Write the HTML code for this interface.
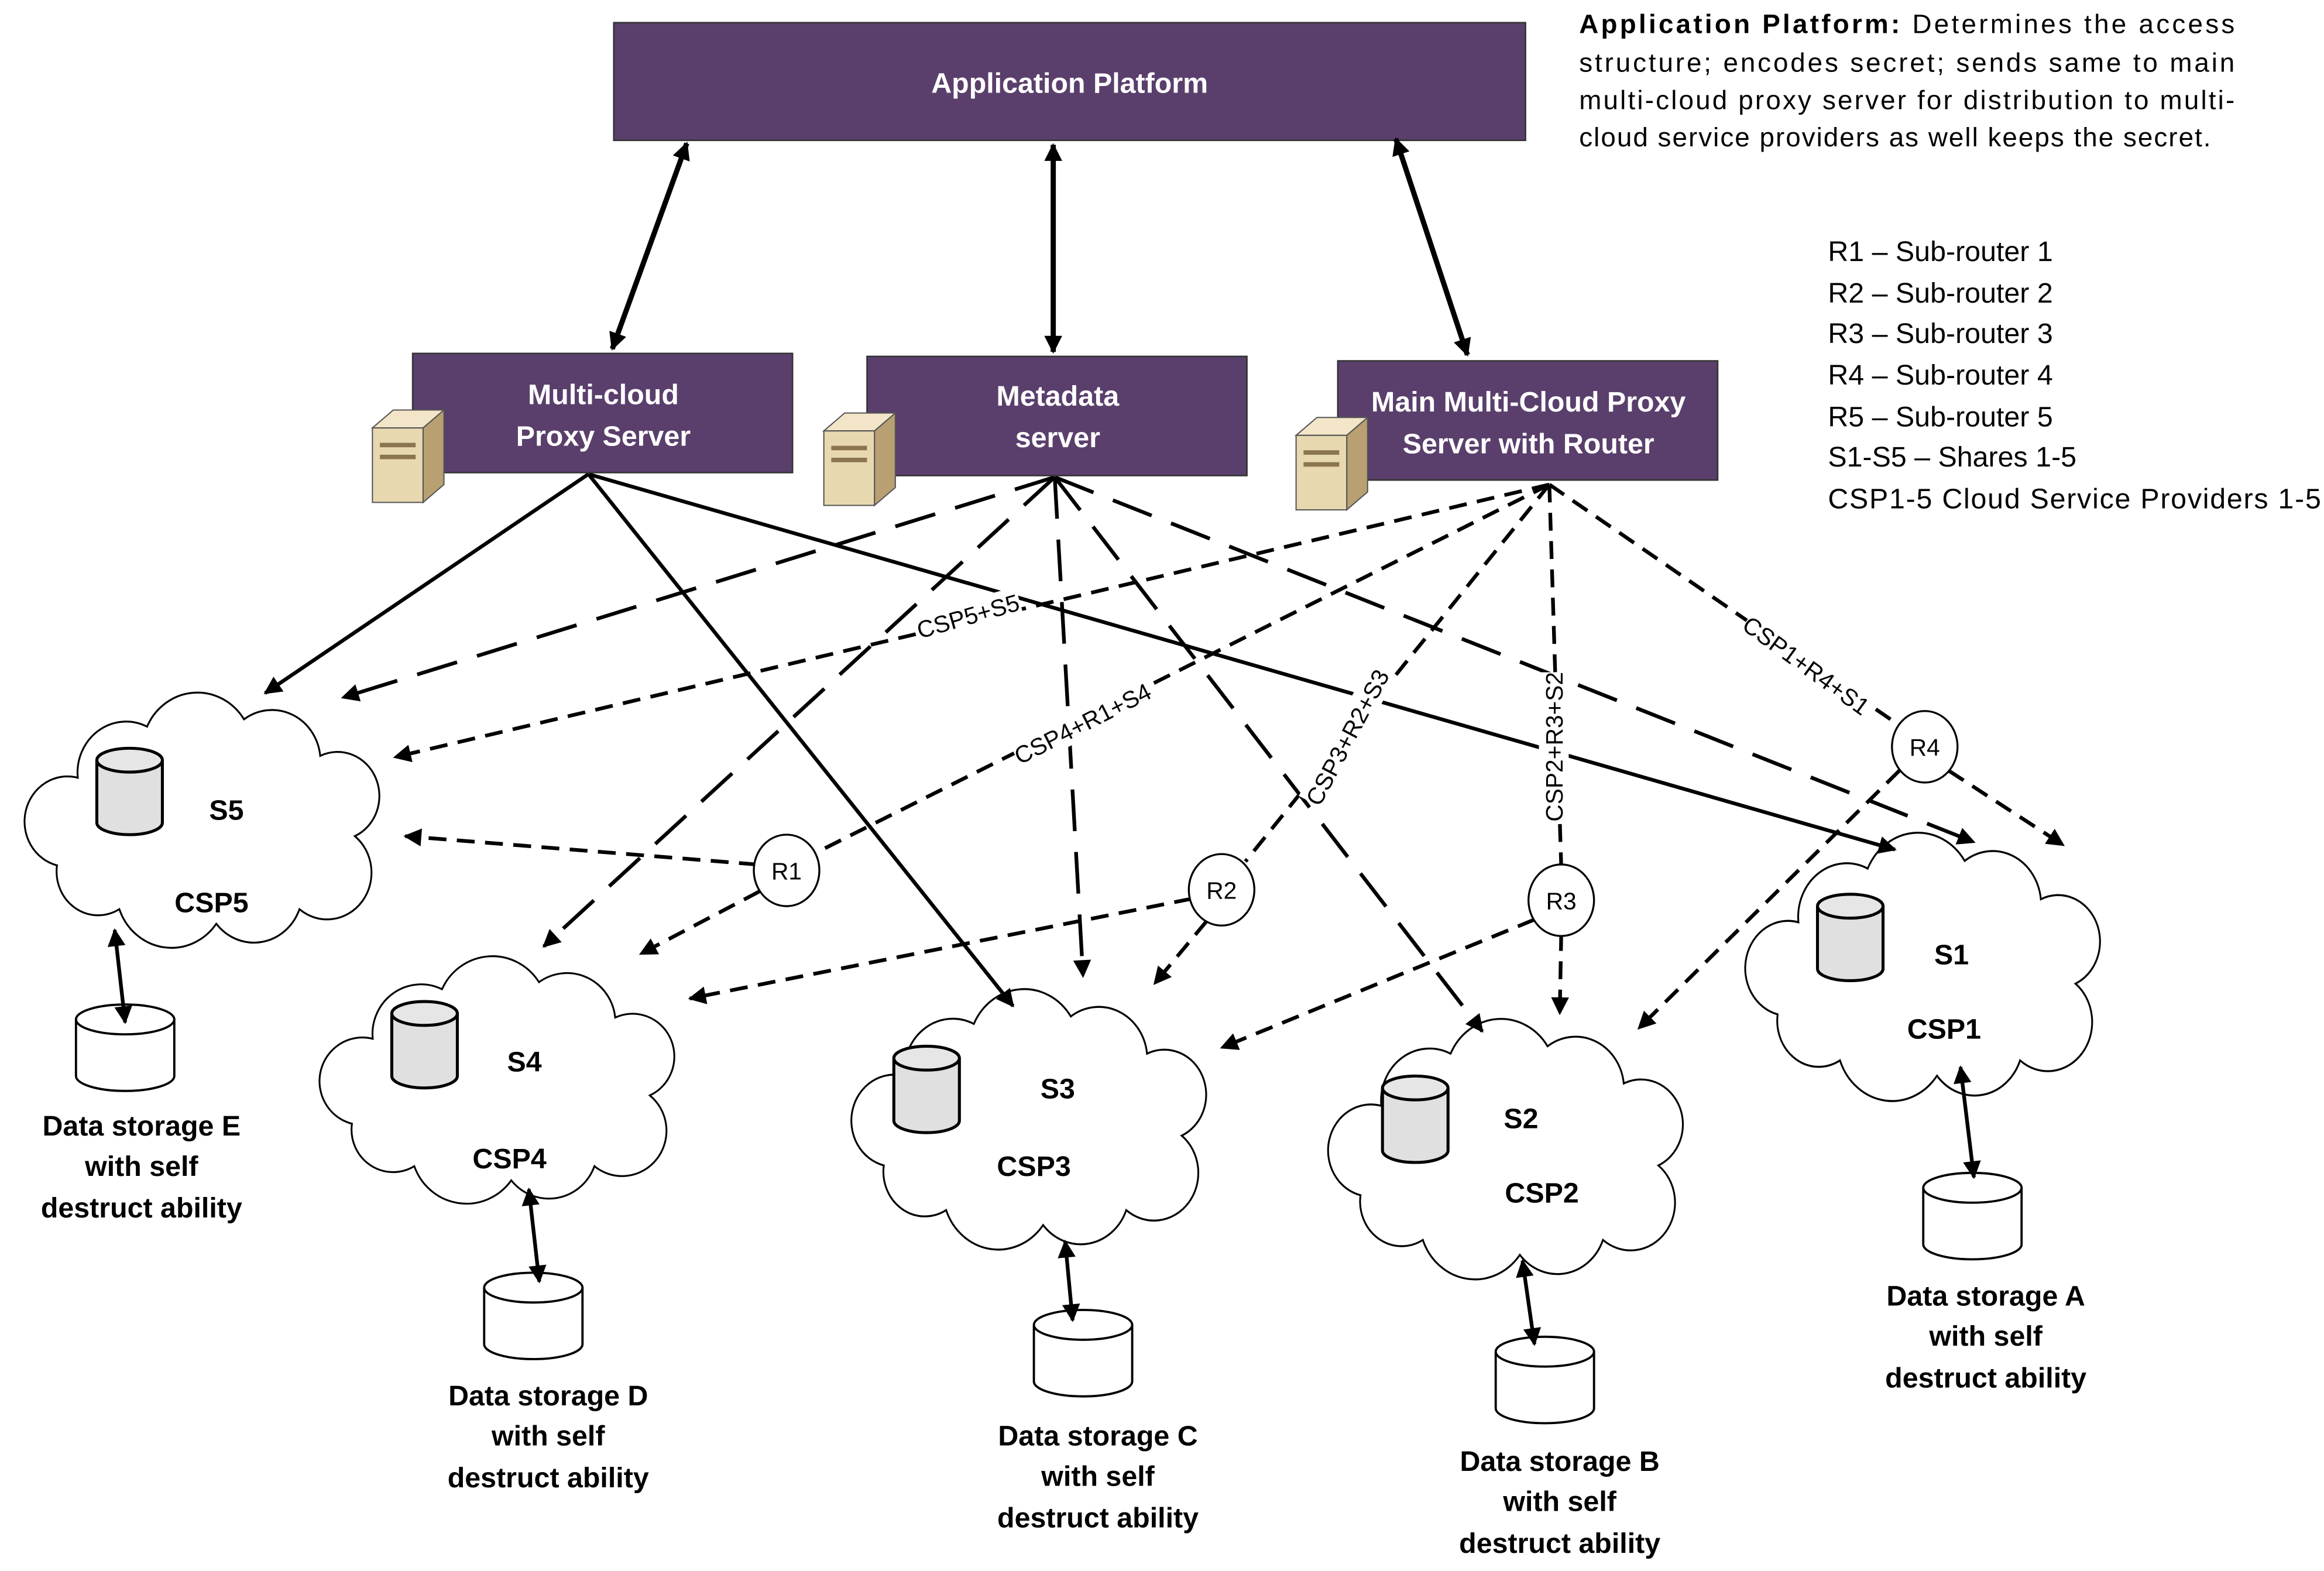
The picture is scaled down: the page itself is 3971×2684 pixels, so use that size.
<!DOCTYPE html>
<html><head><meta charset="utf-8"><style>
html,body{margin:0;padding:0;background:#fff;}
svg{display:block;}
text{font-family:"Liberation Sans","DejaVu Sans",sans-serif;}
.b{font-weight:bold;font-size:19px;}
</style></head><body>
<svg width="3971" height="2684" viewBox="0 0 1560 1054" xmlns="http://www.w3.org/2000/svg">
<defs>
<marker id="a" viewBox="0 0 10 10" refX="9" refY="5" markerWidth="16" markerHeight="12" markerUnits="userSpaceOnUse" orient="auto-start-reverse"><path d="M0,0 L10,5 L0,10 Z" fill="#000"/></marker>
<g id="cloud"><path d="M40 60 A35 35 0 0 1 90 25 A40 40 0 0 1 160 20 A35 35 0 0 1 215 45 A30 30 0 0 1 240 100 A30 30 0 0 1 200 150 A35 35 0 0 1 140 160 A40 40 0 0 1 70 150 A30 30 0 0 1 25 120 A30 30 0 0 1 40 60 Z" fill="#fff" stroke="#000" stroke-width="1.3"/></g>
<g id="cyl"><path d="M0 10 L0 52 A22 8 0 0 0 44 52 L44 10" fill="#e0e0e0" stroke="#000" stroke-width="2"/><ellipse cx="22" cy="10" rx="22" ry="8" fill="#e6e6e6" stroke="#000" stroke-width="2"/></g>
<g id="cyl2"><path d="M0 12 L0 50 A33 10 0 0 0 66 50 L66 12" fill="#fff" stroke="#000" stroke-width="1.5"/><ellipse cx="33" cy="12" rx="33" ry="10" fill="#fff" stroke="#000" stroke-width="1.5"/></g>
<g id="srv"><polygon points="0,12 14,0 48,0 34,12" fill="#f3e6c8" stroke="#555" stroke-width="0.8"/><polygon points="34,12 48,0 48,50 34,62" fill="#b8a072" stroke="#555" stroke-width="0.8"/><rect x="0" y="12" width="34" height="50" fill="#e8d8b0" stroke="#555" stroke-width="0.8"/><rect x="5" y="22" width="24" height="3" fill="#8a7550"/><rect x="5" y="30" width="24" height="3" fill="#8a7550"/></g>
</defs>

<rect x="412" y="15" width="612" height="79" fill="#5a3f6c" stroke="#333"/>
<text x="718" y="62" fill="#fff" class="b" text-anchor="middle" font-size="20">Application Platform</text>

<g font-size="18">
<text x="1060" y="22" textLength="440" lengthAdjust="spacing"><tspan font-weight="bold">Application Platform:</tspan> Determines the access</text>
<text x="1060" y="48" textLength="440" lengthAdjust="spacing">structure; encodes secret; sends same to main</text>
<text x="1060" y="73" textLength="440" lengthAdjust="spacing">multi-cloud proxy server for distribution to multi-</text>
<text x="1060" y="98" textLength="424" lengthAdjust="spacing">cloud service providers as well keeps the secret.</text>
</g>
<g font-size="19">
<text x="1227" y="175">R1 – Sub-router 1</text>
<text x="1227" y="203">R2 – Sub-router 2</text>
<text x="1227" y="230">R3 – Sub-router 3</text>
<text x="1227" y="258">R4 – Sub-router 4</text>
<text x="1227" y="286">R5 – Sub-router 5</text>
<text x="1227" y="313">S1-S5 – Shares 1-5</text>
<text x="1227" y="341" textLength="331" lengthAdjust="spacing">CSP1-5 Cloud Service Providers 1-5</text>
</g>

<g stroke="#000" stroke-width="3.5" marker-start="url(#a)" marker-end="url(#a)">
<line x1="461" y1="96" x2="411" y2="234"/>
<line x1="707" y1="97" x2="707" y2="236"/>
<line x1="937" y1="93" x2="985" y2="238"/>
</g>

<use href="#cloud" transform="translate(15,463) scale(0.93,0.98)"/>
<use href="#cloud" transform="translate(213,640) scale(0.93,0.95)"/>
<use href="#cloud" transform="translate(570,662) scale(0.93,1.0)"/>
<use href="#cloud" transform="translate(890,682) scale(0.93,1.0)"/>
<use href="#cloud" transform="translate(1170,557) scale(0.93,1.03)"/>

<g stroke="#000" stroke-width="2.5" fill="none">
<line x1="395" y1="318" x2="178" y2="465" marker-end="url(#a)"/>
<line x1="395" y1="318" x2="680" y2="675" marker-end="url(#a)"/>
<line x1="395" y1="318" x2="1272" y2="570" marker-end="url(#a)"/>
</g>
<g stroke="#000" stroke-width="2.5" fill="none" stroke-dasharray="28 14">
<line x1="708" y1="320" x2="230" y2="468" marker-end="url(#a)"/>
<line x1="708" y1="320" x2="365" y2="635" marker-end="url(#a)"/>
<line x1="708" y1="320" x2="727" y2="655" marker-end="url(#a)"/>
<line x1="708" y1="320" x2="995" y2="692" marker-end="url(#a)"/>
<line x1="708" y1="320" x2="1325" y2="565" marker-end="url(#a)"/>
</g>
<g stroke="#000" stroke-width="2.5" fill="none" stroke-dasharray="12 7">
<line x1="1040" y1="325" x2="265" y2="508" marker-end="url(#a)"/>
<line x1="1040" y1="325" x2="548" y2="572"/>
<line x1="1040" y1="325" x2="836" y2="578"/>
<line x1="1040" y1="325" x2="1048" y2="582"/>
<line x1="1040" y1="325" x2="1274" y2="486"/>
<line x1="508" y1="580" x2="272" y2="561" marker-end="url(#a)"/>
<line x1="510" y1="598" x2="430" y2="640" marker-end="url(#a)"/>
<line x1="800" y1="603" x2="463" y2="670" marker-end="url(#a)"/>
<line x1="810" y1="618" x2="775" y2="660" marker-end="url(#a)"/>
<line x1="1030" y1="617" x2="820" y2="703" marker-end="url(#a)"/>
<line x1="1048" y1="626" x2="1047" y2="680" marker-end="url(#a)"/>
<line x1="1275" y1="517" x2="1100" y2="690" marker-end="url(#a)"/>
<line x1="1308" y1="517" x2="1385" y2="567" marker-end="url(#a)"/>
</g>

<g font-size="16" text-anchor="middle">
<g transform="translate(650,414) rotate(-16)"><rect x="-36" y="-11" width="72" height="20" fill="#fff"/><text y="5">CSP5+S5</text></g>
<g transform="translate(727,486) rotate(-27)"><rect x="-50" y="-11" width="100" height="20" fill="#fff"/><text y="5">CSP4+R1+S4</text></g>
<g transform="translate(905,495) rotate(-62)"><rect x="-50" y="-11" width="100" height="20" fill="#fff"/><text y="5">CSP3+R2+S3</text></g>
<g transform="translate(1044,501) rotate(-90)"><rect x="-50" y="-11" width="100" height="20" fill="#fff"/><text y="5">CSP2+R3+S2</text></g>
<g transform="translate(1212,447) rotate(36)"><rect x="-50" y="-11" width="100" height="20" fill="#fff"/><text y="5">CSP1+R4+S1</text></g>
</g>

<g fill="#fff" stroke="#000" stroke-width="1.3">
<ellipse cx="528" cy="584" rx="22" ry="24"/>
<ellipse cx="820" cy="597" rx="22" ry="24"/>
<ellipse cx="1048" cy="604" rx="22" ry="24"/>
<ellipse cx="1292" cy="501" rx="22" ry="24"/>
</g>
<g font-size="16" text-anchor="middle">
<text x="528" y="590">R1</text><text x="820" y="603">R2</text><text x="1048" y="610">R3</text><text x="1292" y="507">R4</text>
</g>

<rect x="277" y="237" width="255" height="80" fill="#5a3f6c" stroke="#333"/>
<rect x="582" y="239" width="255" height="80" fill="#5a3f6c" stroke="#333"/>
<rect x="898" y="242" width="255" height="80" fill="#5a3f6c" stroke="#333"/>
<g fill="#fff" class="b" text-anchor="middle">
<text x="405" y="271">Multi-cloud</text><text x="405" y="299">Proxy Server</text>
<text x="710" y="272">Metadata</text><text x="710" y="300">server</text>
<text x="1026" y="276">Main Multi-Cloud Proxy</text><text x="1026" y="304">Server with Router</text>
</g>
<use href="#srv" transform="translate(250,275)"/>
<use href="#srv" transform="translate(553,277)"/>
<use href="#srv" transform="translate(870,280)"/>

<use href="#cyl" transform="translate(65,500)"/>
<use href="#cyl" transform="translate(263,670)"/>
<use href="#cyl" transform="translate(600,700)"/>
<use href="#cyl" transform="translate(928,720)"/>
<use href="#cyl" transform="translate(1220,598)"/>
<g class="b" text-anchor="middle">
<text x="152" y="550">S5</text><text x="142" y="612">CSP5</text>
<text x="352" y="719">S4</text><text x="342" y="784">CSP4</text>
<text x="710" y="737">S3</text><text x="694" y="789">CSP3</text>
<text x="1021" y="757">S2</text><text x="1035" y="807">CSP2</text>
<text x="1310" y="647">S1</text><text x="1305" y="697">CSP1</text>
</g>

<use href="#cyl2" transform="translate(51,672)"/>
<use href="#cyl2" transform="translate(325,852)"/>
<use href="#cyl2" transform="translate(694,877)"/>
<use href="#cyl2" transform="translate(1004,895)"/>
<use href="#cyl2" transform="translate(1291,785)"/>
<g stroke="#000" stroke-width="2.5" marker-start="url(#a)" marker-end="url(#a)">
<line x1="77" y1="624" x2="84" y2="686"/>
<line x1="355" y1="798" x2="362" y2="860"/>
<line x1="715" y1="833" x2="720" y2="886"/>
<line x1="1022" y1="846" x2="1030" y2="902"/>
<line x1="1316" y1="716" x2="1325" y2="790"/>
</g>
<g class="b" text-anchor="middle">
<text x="95" y="762">Data storage E</text><text x="95" y="789">with self</text><text x="95" y="817">destruct ability</text>
<text x="368" y="943">Data storage D</text><text x="368" y="970">with self</text><text x="368" y="998">destruct ability</text>
<text x="737" y="970">Data storage C</text><text x="737" y="997">with self</text><text x="737" y="1025">destruct ability</text>
<text x="1047" y="987">Data storage B</text><text x="1047" y="1014">with self</text><text x="1047" y="1042">destruct ability</text>
<text x="1333" y="876">Data storage A</text><text x="1333" y="903">with self</text><text x="1333" y="931">destruct ability</text>
</g>
</svg>
</body></html>
